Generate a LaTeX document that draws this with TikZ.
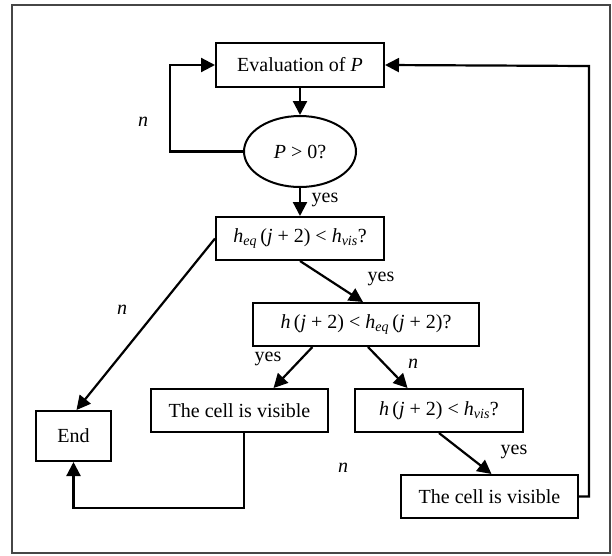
\documentclass[tikz,border=0pt]{standalone}
\usepackage{fontspec}
\setmainfont{Liberation Serif}
\usetikzlibrary{arrows.meta,shapes.geometric,calc}
\tikzset{
  box/.style={draw, line width=2pt, rectangle, inner sep=0pt, font=\fontsize{20}{22}\selectfont},
  ell/.style={draw, line width=2pt, ellipse, inner sep=0pt, font=\fontsize{20}{22}\selectfont},
  arr/.style={line width=2.2pt, -{Triangle[length=14pt,width=14pt]}},
  lbl/.style={font=\fontsize{20}{22}\selectfont, inner sep=0pt},
}
\begin{document}
\begin{tikzpicture}[x=1pt,y=-1pt]
\useasboundingbox (0,0) rectangle (612,555);
\draw[line width=1.2pt, draw={rgb,255:red,70;green,70;blue,70}] (12,5) rectangle (610,553);

\node[box, minimum width=168pt, minimum height=44pt] (eval) at (300,65) {Evaluation of \textit{P}};
\node[ell, minimum width=112pt, minimum height=71pt] (ell) at (300,151.5) {\textit{P} > 0?};
\node[box, minimum width=168pt, minimum height=43pt] (heq) at (300,238.5) {\textit{h}\textsubscript{\textit{eq}}\,(\textit{j} + 2) < \textit{h}\textsubscript{\textit{vis}}?};
\node[box, minimum width=226pt, minimum height=43pt] (hh) at (366,324.5) {\textit{h}\,(\textit{j} + 2) < \textit{h}\textsubscript{\textit{eq}}\,(\textit{j} + 2)?};
\node[box, minimum width=75pt, minimum height=50pt] (end) at (73.5,436) {End};
\node[box, minimum width=177pt, minimum height=43pt] (vis1) at (239.5,410.5) {The cell is visible};
\node[box, minimum width=168pt, minimum height=43pt] (hvis) at (439,410.5) {\textit{h}\,(\textit{j} + 2) < \textit{h}\textsubscript{\textit{vis}}?};
\node[box, minimum width=177pt, minimum height=43pt] (vis2) at (489.5,496.5) {The cell is visible};

\coordinate (l1) at (170,151.5);
\coordinate (b1) at (244,508);
\coordinate (r1) at (589,66);

\draw[arr] (eval.south) -- (ell.north);
\draw[arr] (ell.west) -- (l1) |- (eval.west);
\draw[arr] (ell.south) -- (heq.north);
\draw[arr] (heq.south) -- ($(hh.north)+(-3,0)$);
\draw[arr] (heq.west) -- ($(end.north)+(3,0)$);
\draw[arr] ($(hh.south west)!0.265!(hh.south east)$) -- ($(vis1.north west)!0.69!(vis1.north east)$);
\draw[arr] ($(hh.south)+(2,0)$) -- ($(hvis.north west)!0.315!(hvis.north east)$);
\draw[arr] (hvis.south) -- ($(vis2.north)+(2,0)$);
\draw[arr] (vis1.south -| b1) -- (b1) -| (end.south);
\draw[arr] (vis2.east) -| (r1) -- (eval.east);

\node[lbl] (n1) at (143,122) {\textit{n}};
\node[lbl] (n2) at (122,310) {\textit{n}};
\node[lbl] (n3) at (413,364) {\textit{n}};
\node[lbl] (n4) at (343,468) {\textit{n}};
\node[lbl] (y1) at (325,200) {yes};
\node[lbl] (y2) at (381,279) {yes};
\node[lbl] (y3) at (268,359) {yes};
\node[lbl] (y4) at (514,452) {yes};
\end{tikzpicture}
\end{document}
